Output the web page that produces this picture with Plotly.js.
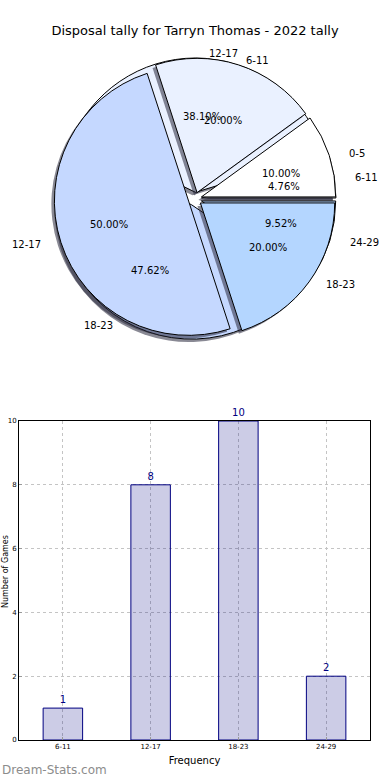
<!DOCTYPE html>
<html>
<head>
<meta charset="utf-8">
<script src="https://cdn.plot.ly/plotly-3.0.1.min.js"></script>
<style>html,body{margin:0;padding:0;background:#fff;}#chart{width:390px;height:780px;}</style>
</head>
<body>
<div id="chart"></div>
<script>
// ---- data ----
const chartTitle = 'Disposal tally for Tarryn Thomas - 2022 tally';
const pieALabels = ['6-11', '12-17', '18-23', '24-29'];
const pieAValues = [1, 8, 10, 2];
const pieBLabels = ['0-5', '6-11', '12-17', '18-23'];
const pieBValues = [1, 2, 5, 2];
const barCategories = ['6-11', '12-17', '18-23', '24-29'];
const barValues = [1, 8, 10, 2];
const yTicks = [0, 2, 4, 6, 8, 10];
const xTitle = 'Frequency';
const yTitle = 'Number of Games';
const watermark = 'Dream-Stats.com';

// ---- styling ----
const W = 390, H = 780;
const FONT = 'DejaVu Sans, sans-serif';
const pieColors = ['#FFFFFF', '#EAF1FF', '#C5D8FF', '#B4D6FF'];
const pull = 0.05;          // explode, fraction of radius
const pctDist = 0.6, labelDist = 1.1;
const cx = 195, cy = 199, half = 141;
const rPx = half / (1 + pull);   // pie radius in px as plotly computes it
const textRx = 139, textRy = 127; // px per radius unit for the text layer (original is slightly oval)
function dom(dx, dy, h) {
  return {
    x: [(cx - h + dx) / W, (cx + h + dx) / W],
    y: [1 - (cy + h + dy) / H, 1 - (cy - h + dy) / H]
  };
}
// first wedge starts at 3 o'clock and the wedges run counterclockwise
function startRotation(vals) {
  const total = vals.reduce((a, b) => a + b, 0);
  return 90 - 360 * vals[0] / total;
}
const mainDom = dom(0, 0, half);
const shadowDom = dom(-3, 3, half);
const textHalf = 180;
const textDom = dom(0, 0, textHalf);
const common = {
  type: 'pie', sort: false, direction: 'counterclockwise',
  showlegend: false, hoverinfo: 'skip', textinfo: 'none', pull: pull
};
const shadowCol = pieColors.map(() => 'rgba(40,40,60,0.55)');

function pieTraces(labels, values) {
  const rot = startRotation(values);
  return [
    Object.assign({}, common, {labels: labels, values: values, rotation: rot, domain: shadowDom,
      marker: {colors: shadowCol, line: {width: 0}}}),
    Object.assign({}, common, {labels: labels, values: values, rotation: rot, domain: mainDom,
      marker: {colors: pieColors, line: {color: '#000', width: 1}}})
  ];
}

// text annotations for a pie, in radius units on a hidden axis pair centred on the pie
function pieTexts(labels, values) {
  const total = values.reduce((a, b) => a + b, 0);
  const out = [];
  let cum = 0;
  values.forEach((v, i) => {
    const th = 2 * Math.PI * (cum + v / 2) / total;
    cum += v;
    const c = Math.cos(th), s = Math.sin(th);
    const ox = pull * c, oy = pull * s;
    out.push({xref: 'x2', yref: 'y2', x: ox + pctDist * c, y: oy + pctDist * s,
      text: (100 * v / total).toFixed(2) + '%', showarrow: false,
      xanchor: 'center', yanchor: 'middle', font: {family: FONT, size: 10, color: '#000'}});
    const lx = ox + labelDist * c;
    out.push({xref: 'x2', yref: 'y2', x: lx, y: oy + labelDist * s,
      text: labels[i], showarrow: false,
      xanchor: lx > 0 ? 'left' : 'right', yanchor: 'middle', font: {family: FONT, size: 10, color: '#000'}});
  });
  return out;
}

const traces = [].concat(
  pieTraces(pieALabels, pieAValues),
  pieTraces(pieBLabels, pieBValues),
  [{
    type: 'scatter', x: [0], y: [0], xaxis: 'x2', yaxis: 'y2', mode: 'markers',
    marker: {opacity: 0, size: 1}, hoverinfo: 'skip', showlegend: false
  },
  {
    type: 'bar', x: barCategories, y: barValues, width: 0.45,
    marker: {color: 'rgba(0,0,128,0.2)', line: {color: '#000080', width: 1}},
    text: barValues.map(String), textposition: 'outside', cliponaxis: false, constraintext: 'none',
    textfont: {family: FONT, size: 10, color: '#000080'},
    hoverinfo: 'skip', showlegend: false
  }]
);

const layout = {
  width: W, height: H,
  margin: {l: 0, r: 0, t: 0, b: 0},
  paper_bgcolor: '#fff', plot_bgcolor: 'rgba(0,0,0,0)',
  font: {family: FONT, color: '#000'},
  title: {text: chartTitle, x: 0.5, xanchor: 'center', y: 1 - 30 / H, yanchor: 'middle',
    font: {family: FONT, size: 13, color: '#000'}},
  xaxis: {
    domain: [19 / W, 370 / W], type: 'category', range: [-0.5, 3.5],
    showline: true, mirror: true, linecolor: '#000', linewidth: 1,
    showgrid: true, gridcolor: '#c4c4c4', griddash: 'dot', gridwidth: 1,
    ticks: 'inside', ticklen: 3, tickcolor: '#999',
    tickfont: {family: FONT, size: 7, color: '#000'},
    title: {text: xTitle, font: {family: FONT, size: 10, color: '#000'}, standoff: 6},
    fixedrange: true, zeroline: false
  },
  yaxis: {
    domain: [1 - 740 / H, 1 - 421 / H], range: [0, 10], tickvals: yTicks,
    showline: true, mirror: true, linecolor: '#000', linewidth: 1,
    showgrid: true, gridcolor: '#c4c4c4', griddash: 'dot', gridwidth: 1,
    ticks: 'inside', ticklen: 3, tickcolor: '#999',
    tickfont: {family: FONT, size: 7, color: '#000'},
    fixedrange: true, zeroline: false
  },
  xaxis2: {domain: textDom.x, range: [-textHalf / textRx, textHalf / textRx], visible: false, anchor: 'y2', fixedrange: true},
  yaxis2: {domain: textDom.y, range: [-textHalf / textRy, textHalf / textRy], visible: false, anchor: 'x2', fixedrange: true},
  annotations: [].concat(
    pieTexts(pieALabels, pieAValues),
    pieTexts(pieBLabels, pieBValues),
    [
      {text: yTitle, xref: 'paper', yref: 'paper', x: 5 / W, y: 1 - 572 / H,
       xanchor: 'center', yanchor: 'middle', textangle: -90, showarrow: false,
       font: {family: FONT, size: 8, color: '#000'}},
      {text: watermark, xref: 'paper', yref: 'paper', x: 0, y: 1 - 770 / H,
       xanchor: 'left', yanchor: 'middle', showarrow: false,
       font: {family: FONT, size: 12, color: '#8c8c8c'}}
    ])
};

Plotly.newPlot('chart', traces, layout, {staticPlot: true, displayModeBar: false});
</script>
</body>
</html>
